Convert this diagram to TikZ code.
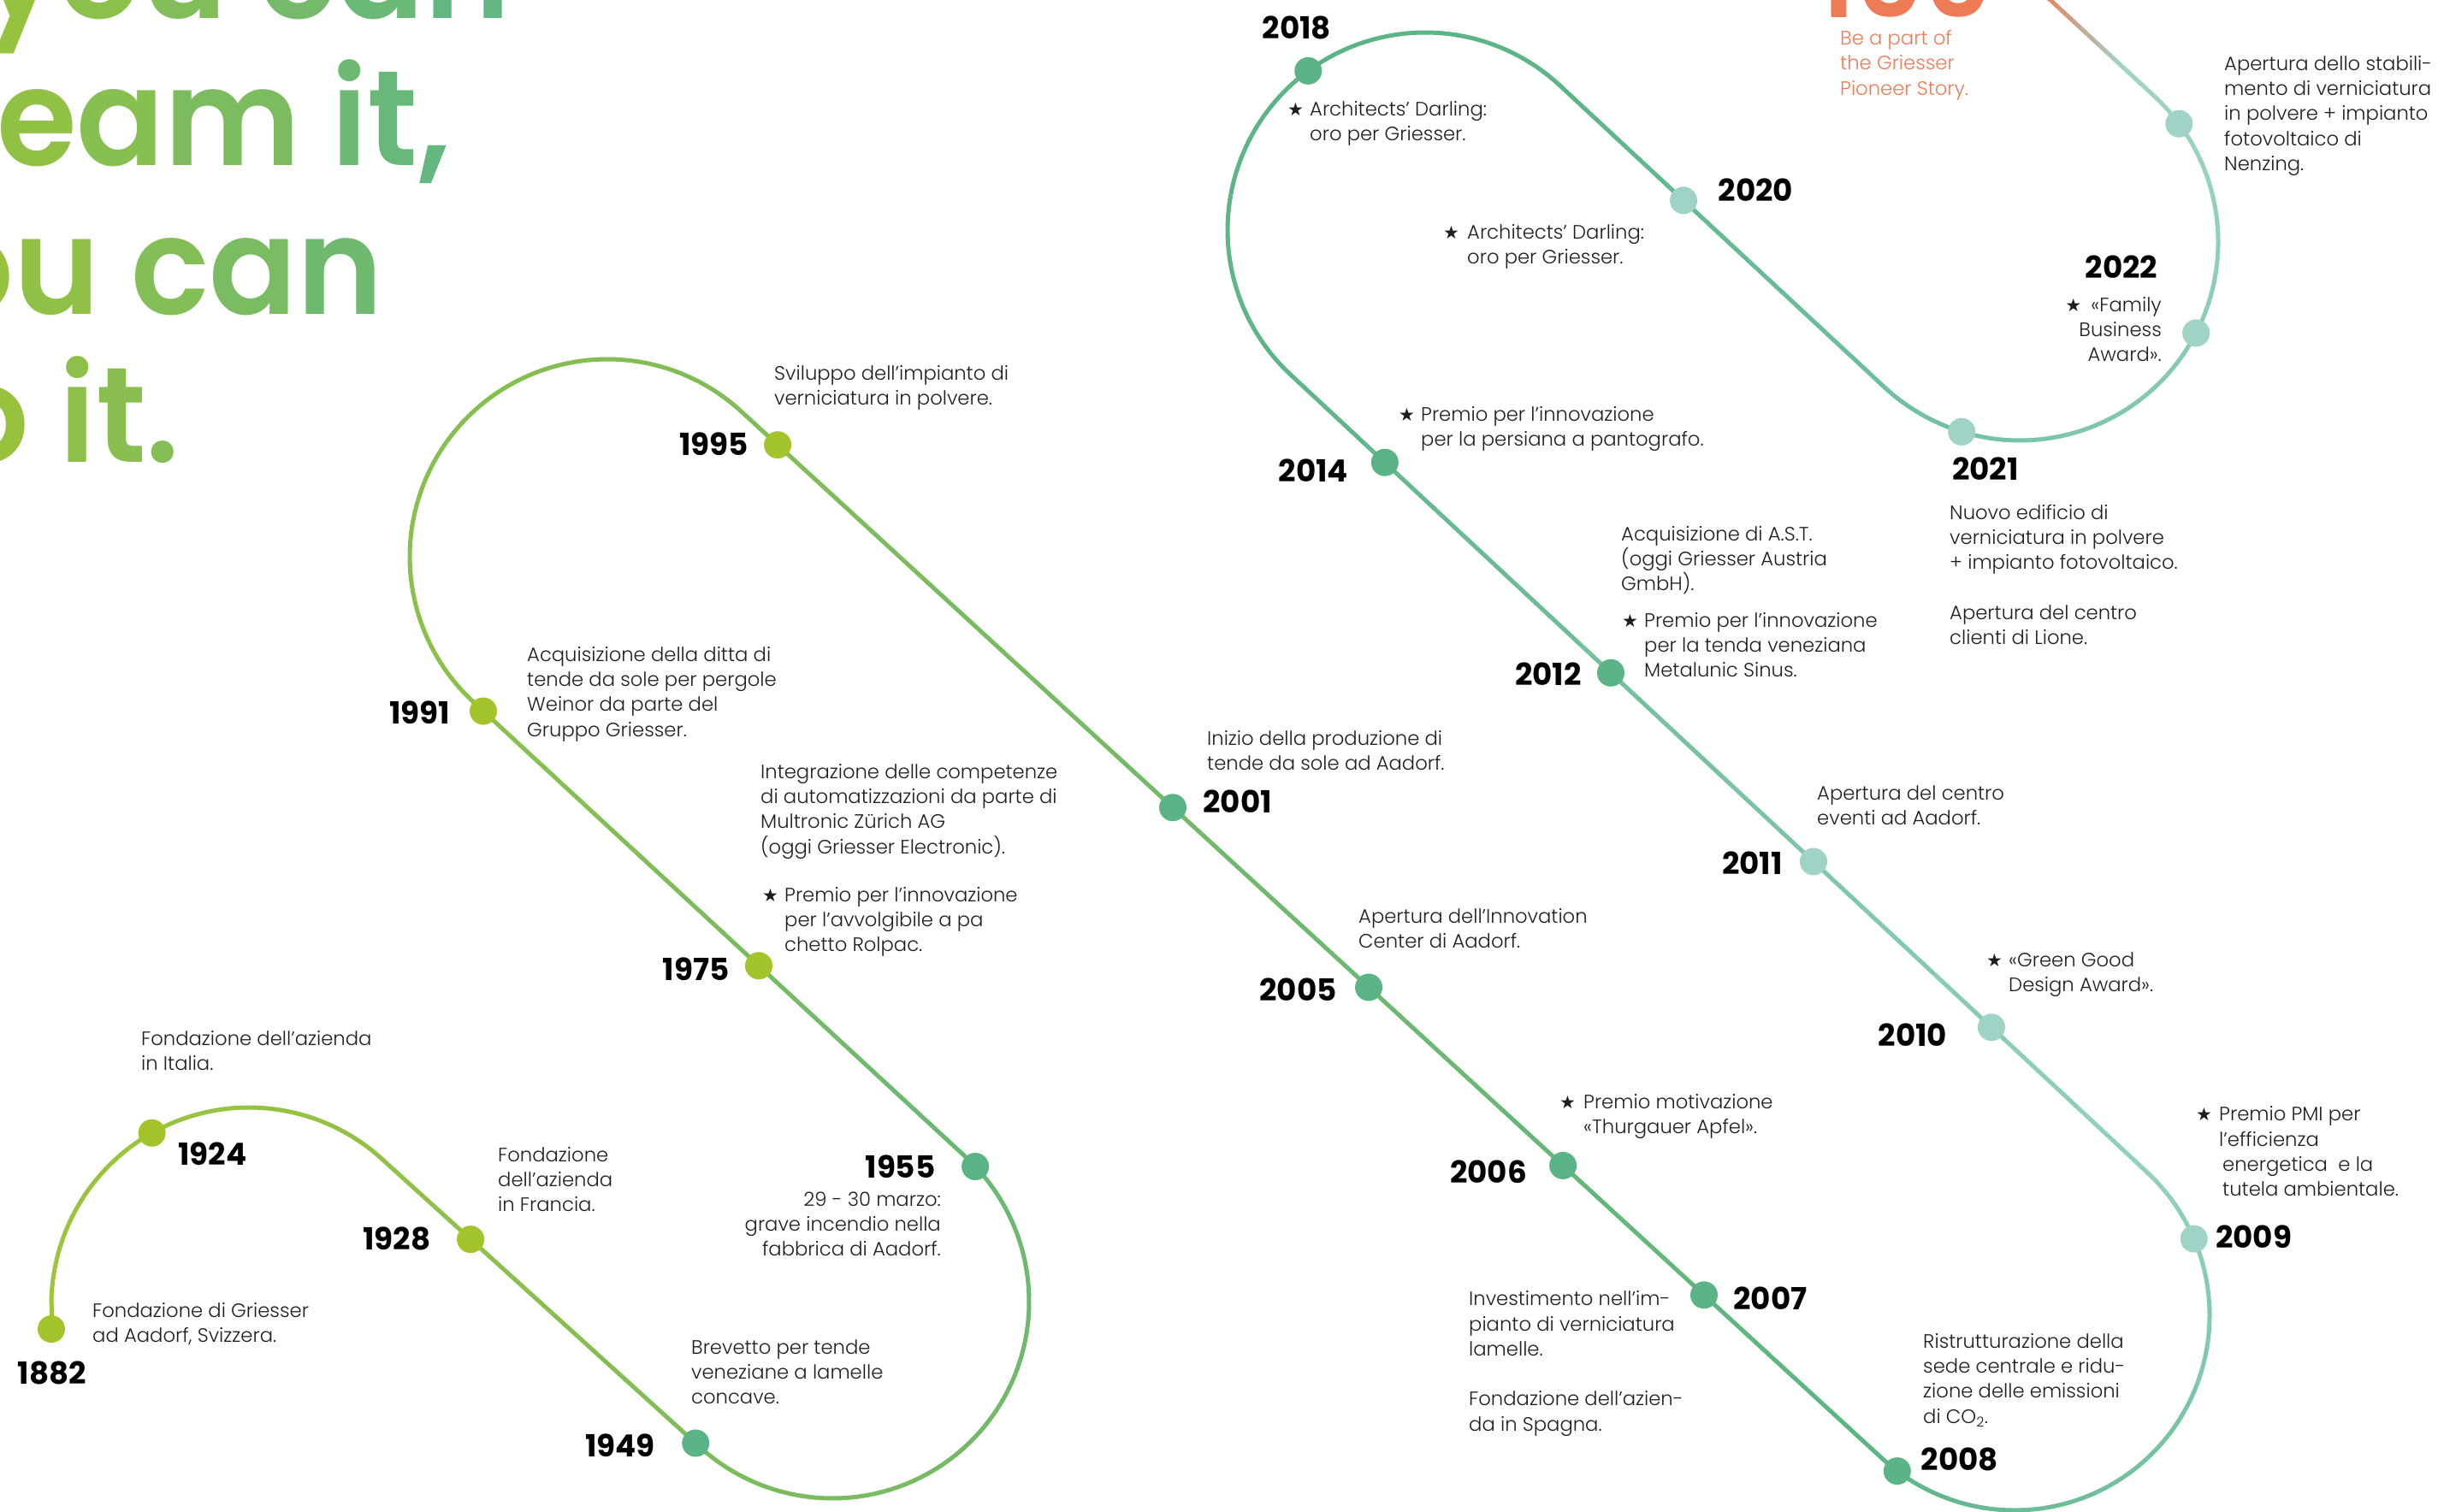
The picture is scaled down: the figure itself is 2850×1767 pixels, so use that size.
\documentclass[tikz,border=0pt]{standalone}
\usepackage{fontspec}
\usetikzlibrary{calc}
\newfontfamily\bodyf{Poppins}[UprightFont=* Light]
\newfontfamily\yearf{Poppins}
\newfontfamily\headf{Poppins}[UprightFont=* SemiBold, FakeStretch=0.96]
\newfontfamily\bigf{Poppins}[UprightFont=* SemiBold]
\newfontfamily\symf{DejaVu Sans}
\definecolor{yg}{HTML}{A3C52B}
\definecolor{gr}{HTML}{5BB486}
\definecolor{lt}{HTML}{9FD3C6}
\definecolor{org}{HTML}{EF7B56}
\definecolor{tc}{HTML}{1E1E1E}
\definecolor{hl}{HTML}{96C23E}
\definecolor{hr}{HTML}{5BB58A}
\definecolor{p0}{HTML}{9FC43A}
\definecolor{p1}{HTML}{93C146}
\definecolor{p2}{HTML}{7FBC59}
\definecolor{p3}{HTML}{68B874}
\definecolor{p4}{HTML}{8BC148}
\definecolor{p5}{HTML}{80BD56}
\definecolor{p6}{HTML}{5CB585}
\definecolor{p7}{HTML}{92D1BE}
\definecolor{p8}{HTML}{5EB587}
\definecolor{p9}{HTML}{5CB586}
\definecolor{p10}{HTML}{6DBF9F}
\definecolor{p11}{HTML}{9ED3C5}
\newcommand\hc[2]{\textcolor{hl!#1!hr}{#2}}
\newcommand\R{\rule{0pt}{21pt}}
\newcommand\gseg[4]{%
  \foreach \i in {0,...,11}{%
    \pgfmathsetmacro\ta{\i/12}%
    \pgfmathsetmacro\tb{(\i+1)/12}%
    \pgfmathtruncatemacro\pc{round(100-100*(\i+0.5)/12)}%
    \draw[tl,draw=#3!\pc!#4] ($(#1)!\ta!(#2)$) -- ($(#1)!\tb!(#2)$);
  }}
\newcommand\garc[6]{%
  \foreach \i in {0,...,15}{%
    \pgfmathsetmacro\aa{#3+(#4-#3)*\i/16}%
    \pgfmathsetmacro\ab{#3+(#4-#3)*(\i+1)/16}%
    \pgfmathtruncatemacro\pc{round(100-100*(\i+0.5)/16)}%
    \draw[tl,draw=#5!\pc!#6] ($(#1)+(\aa:#2)$) arc[start angle=\aa, end angle=\ab, radius=#2];
  }}
\tikzset{
  tl/.style={line width=5pt, line cap=round},
  dot/.style={circle, minimum size=32pt, inner sep=0pt, draw=none},
  txt/.style={font=\bodyf\fontsize{22.7pt}{29.3pt}\selectfont, align=left, inner sep=0pt, anchor=north west, text=tc},
  txtr/.style={txt, align=right, anchor=north east},
  otxt/.style={txt, text=org},
  yr/.style={font=\yearf\bfseries\fontsize{35.7pt}{36pt}\selectfont, inner sep=0pt, anchor=base, text=black},
  star/.style={font=\symf\fontsize{21pt}{21pt}\selectfont, inner sep=0pt, anchor=base west, text=tc},
  head/.style={font=\headf\fontsize{158pt}{170pt}\selectfont, inner sep=0pt, anchor=base west},
}
\begin{document}
\begin{tikzpicture}[x=1pt,y=1pt]
\useasboundingbox (0,-1767) rectangle (2850,0);
\clip (0,-1767) rectangle (2850,0);
% headline
\node[head] (h1) at (-23,-21) {\hc{98}{y}\hc{82}{o}\hc{65}{u} \hc{42}{c}\hc{27}{a}\hc{10}{n}};
\node[head] (h2) at (-168,-193) {\hc{100}{d}\hc{100}{r}\hc{92}{e}\hc{75}{a}\hc{56}{m} \hc{31}{i}\hc{22}{t}\hc{14}{,}};
\node[head] (h3) at (-172,-367) {\hc{100}{y}\hc{100}{o}\hc{90}{u} \hc{67}{c}\hc{52}{a}\hc{35}{n}};
\node[head] (h4) at (-166,-540) {\hc{100}{d}\hc{100}{o} \hc{84}{i}\hc{76}{t}\hc{68}{.}};
% 100
\node[inner sep=0pt, anchor=base west, font=\bigf\fontsize{124pt}{124pt}\selectfont, text=org] (hundred) at (2124,-20.5) {100};
\node[otxt] (story) at (2151,-31.3) {\R Be a part of\\the Griesser\\Pioneer Story.};
% geometry
\coordinate (S0) at (60,-1554);
\coordinate (S1) at (60,-1526);
\coordinate (C0) at (291,-1526);
\coordinate (CA) at (973,-1522);
\coordinate (CB) at (710,-651);
\coordinate (CC) at (2355,-1538);
\coordinate (CD) at (1666,-269);
\coordinate (CE) at (2361,-283);
\coordinate (T0b) at ($(C0)+(47.2:231)$);
\coordinate (TAa) at ($(CA)+(227.2:230)$);
\coordinate (TAb) at ($(CA)+(47.2:230)$);
\coordinate (TBa) at ($(CB)+(227.2:231)$);
\coordinate (TBb) at ($(CB)+(47.2:231)$);
\coordinate (TCa) at ($(CC)+(227.2:228)$);
\coordinate (TCb) at ($(CC)+(47.2:228)$);
\coordinate (TDa) at ($(CD)+(227.2:231)$);
\coordinate (TDb) at ($(CD)+(47.2:231)$);
\coordinate (TEa) at ($(CE)+(227.2:232)$);
\coordinate (TEb) at ($(CE)+(47.2:232)$);
\coordinate (TEm) at ($(TEb)+(137.2:55)$);
\coordinate (TEe) at ($(TEb)+(137.2:190)$);
% timeline
\draw[tl,draw=p0] (S0) -- (S1);
\garc{C0}{231}{180}{47.2}{p0}{p1}
\gseg{T0b}{TAa}{p1}{p2}
\garc{CA}{230}{227.2}{407.2}{p2}{p3}
\gseg{TAb}{TBa}{p3}{p4}
\garc{CB}{231}{227.2}{47.2}{p4}{p5}
\gseg{TBb}{TCa}{p5}{p6}
\garc{CC}{228}{227.2}{407.2}{p6}{p7}
\gseg{TCb}{TDa}{p7}{p8}
\garc{CD}{231}{227.2}{47.2}{p8}{p9}
\gseg{TDb}{TEa}{p9}{p10}
\garc{CE}{232}{227.2}{407.2}{p10}{p11}
\gseg{TEb}{TEm}{p11}{p11}
\gseg{TEm}{TEe}{p11}{org}
% dots
\node[dot,fill=yg] (d1882) at (S0) {};
\node[dot,fill=yg] (d1924) at ($(C0)+(119.4:231)$) {};
\node[dot,fill=yg] (d1928) at ($(T0b)!0.277!(TAa)$) {};
\node[dot,fill=gr] (d1949) at ($(CA)+(226:230)$) {};
\node[dot,fill=gr] (d1955) at ($(CA)+(43.4:230)$) {};
\node[dot,fill=yg] (d1975) at ($(TAb)!0.4205!(TBa)$) {};
\node[dot,fill=yg] (d1991) at ($(TAb)!0.9793!(TBa)$) {};
\node[dot,fill=yg] (d1995) at ($(TBb)!0.0316!(TCa)$) {};
\node[dot,fill=gr] (d2001) at ($(TBb)!0.3781!(TCa)$) {};
\node[dot,fill=gr] (d2005) at ($(TBb)!0.5499!(TCa)$) {};
\node[dot,fill=gr] (d2006) at ($(TBb)!0.7202!(TCa)$) {};
\node[dot,fill=gr] (d2007) at ($(TBb)!0.8439!(TCa)$) {};
\node[dot,fill=gr] (d2008) at ($(CC)+(233:228)$) {};
\node[dot,fill=lt] (d2009) at ($(CC)+(23.1:228)$) {};
\node[dot,fill=lt] (d2010) at ($(TCb)!0.1818!(TDa)$) {};
\node[dot,fill=lt] (d2011) at ($(TCb)!0.3896!(TDa)$) {};
\node[dot,fill=gr] (d2012) at ($(TCb)!0.6264!(TDa)$) {};
\node[dot,fill=gr] (d2014) at ($(TCb)!0.8903!(TDa)$) {};
\node[dot,fill=gr] (d2018) at ($(CD)+(126.3:231)$) {};
\node[dot,fill=lt] (d2020) at ($(TDb)!0.3813!(TEa)$) {};
\node[dot,fill=lt] (d2021) at ($(CE)+(253:232)$) {};
\node[dot,fill=lt] (d2022) at ($(CE)+(332.7:232)$) {};
\node[dot,fill=lt] (d2023) at ($(CE)+(36.6:232)$) {};
% years
\node[yr] (y1882) at (61,-1618) {1882};
\node[yr] (y1924) at (248.5,-1362) {1924};
\node[yr] (y1928) at (464,-1461) {1928};
\node[yr] (y1949) at (725,-1703) {1949};
\node[yr] (y1955) at (1052.5,-1377) {1955};
\node[yr] (y1975) at (813.5,-1146) {1975};
\node[yr] (y1991) at (490.5,-846) {1991};
\node[yr] (y1995) at (834.5,-532) {1995};
\node[yr] (y2001) at (1446.5,-950) {2001};
\node[yr] (y2005) at (1517.5,-1170) {2005};
\node[yr] (y2006) at (1740,-1383) {2006};
\node[yr] (y2007) at (2069.5,-1531) {2007};
\node[yr] (y2008) at (2291,-1719) {2008};
\node[yr] (y2009) at (2634.5,-1459) {2009};
\node[yr] (y2010) at (2236,-1223) {2010};
\node[yr] (y2011) at (2048.5,-1022) {2011};
\node[yr] (y2012) at (1810,-801) {2012};
\node[yr] (y2014) at (1535.5,-563) {2014};
\node[yr] (y2018) at (1516,-45) {2018};
\node[yr] (y2020) at (2052.5,-235) {2020};
\node[yr] (y2021) at (2321,-561) {2021};
\node[yr] (y2022) at (2480,-325) {2022};
% texts
\node[txt] (t1882) at (108,-1519) {\R Fondazione di Griesser\\ad Aadorf, Svizzera.};
\node[txt] (t1924) at (165,-1201) {\R Fondazione dell’azienda\\in Italia.};
\node[txt] (t1928) at (582,-1337) {\R Fondazione\\dell’azienda\\in Francia.};
\node[txt] (t1949) at (808,-1562) {\R Brevetto per tende\\veneziane a lamelle\\concave.};
\node[txtr] (t1955) at (1100,-1389) {\R 29 - 30 marzo:\\grave incendio nella\\fabbrica di Aadorf.};
\node[txt] (t1975a) at (889,-889) {\R Integrazione delle competenze\\di automatizzazioni da parte di\\Multronic Zürich AG\\(oggi Griesser Electronic).};
\node[star] (s1975) at (891,-1054) {★};
\node[txt] (t1975b) at (917,-1033) {\R Premio per l’innovazione\\per l’avvolgibile a pa\\chetto Rolpac.};
\node[txt] (t1991) at (616,-752) {\R Acquisizione della ditta di\\tende da sole per pergole\\Weinor da parte del\\Gruppo Griesser.};
\node[txt] (t1995) at (905,-423) {\R Sviluppo dell’impianto di\\verniciatura in polvere.};
\node[txt] (t2001) at (1411,-850) {\R Inizio della produzione di\\tende da sole ad Aadorf.};
\node[txt] (t2005) at (1588,-1058) {\R Apertura dell’Innovation\\Center di Aadorf.};
\node[star] (s2006) at (1823,-1296) {★};
\node[txt] (t2006) at (1851,-1275) {\R Premio motivazione\\«Thurgauer Apfel».};
\node[txt] (t2007) at (1717,-1505.5) {\R Investimento nell’im-\\pianto di verniciatura\\lamelle.\\[29.3pt]Fondazione dell’azien-\\da in Spagna.};
\node[txt] (t2008) at (2248,-1555) {\R Ristrutturazione della\\sede centrale e ridu-\\zione delle emissioni\\di CO\textsubscript{2}.};
\node[star] (s2009) at (2567,-1310.5) {★};
\node[txt] (t2009) at (2594,-1289.5) {\R Premio PMI per\\l’efficienza\\\hspace*{4pt}energetica \ e la\\\hspace*{4pt}tutela ambientale.};
\node[star] (s2010) at (2322,-1130) {★};
\node[txt] (t2010) at (2348,-1109) {\R «Green Good\\Design Award».};
\node[txt] (t2011) at (2124,-914) {\R Apertura del centro\\eventi ad Aadorf.};
\node[txt] (t2012a) at (1895,-611) {\R Acquisizione di A.S.T.\\(oggi Griesser Austria\\GmbH).};
\node[star] (s2012) at (1896,-733) {★};
\node[txt] (t2012b) at (1922,-712) {\R Premio per l’innovazione\\per la tenda veneziana\\Metalunic Sinus.};
\node[txt] (t2021) at (2279,-586) {\R Nuovo edificio di\\verniciatura in polvere\\+ impianto fotovoltaico.\\[29.3pt]Apertura del centro\\clienti di Lione.};
\node[star] (s2014) at (1635,-492) {★};
\node[txt] (t2014) at (1661,-471) {\R Premio per l’innovazione\\per la persiana a pantografo.};
\node[star] (s2020) at (1687,-279) {★};
\node[txt] (t2020) at (1715,-258) {\R Architects’ Darling:\\oro per Griesser.};
\node[star] (s2018) at (1505,-135) {★};
\node[txt] (t2018) at (1531,-114) {\R Architects’ Darling:\\oro per Griesser.};
\node[txt] (t2023) at (2600,-61) {\R Apertura dello stabili-\\mento di verniciatura\\in polvere + impianto\\fotovoltaico di\\Nenzing.};
\node[txtr] (t2022) at (2527,-343) {\R{\symf\fontsize{21pt}{21pt}\selectfont ★}\hspace{5pt} «Family\\Business\\Award».};
\end{tikzpicture}
\end{document}
